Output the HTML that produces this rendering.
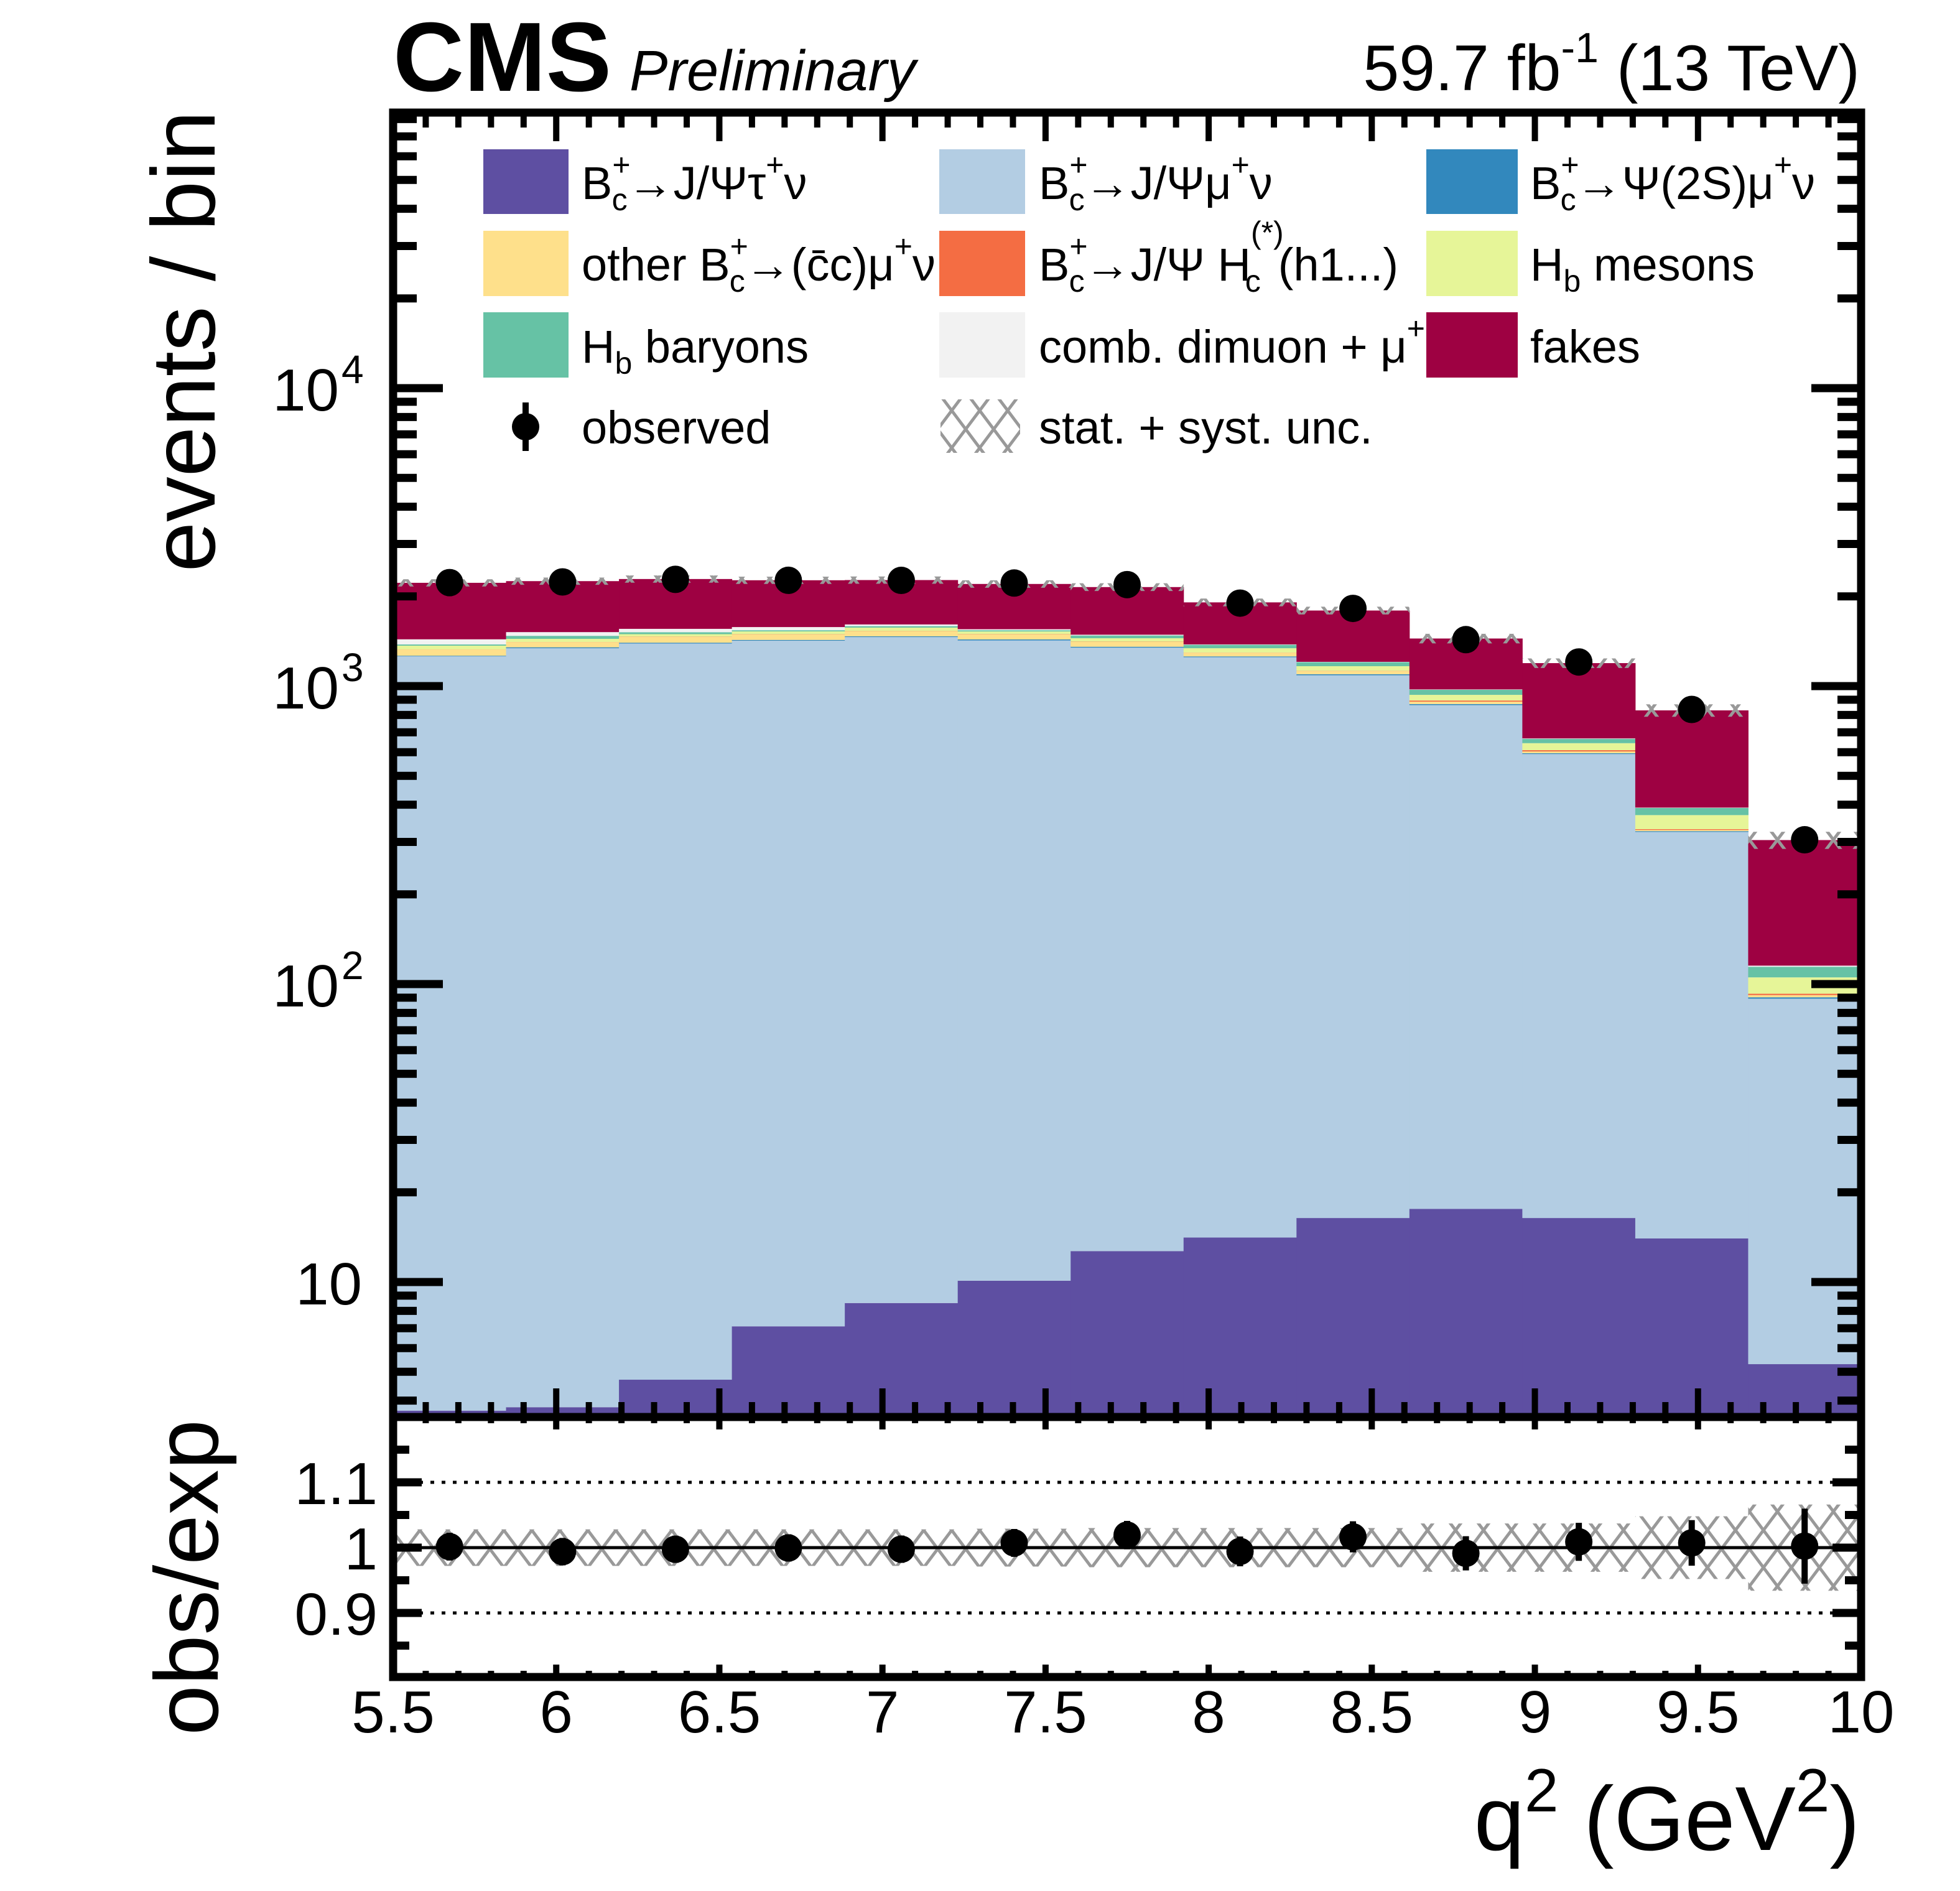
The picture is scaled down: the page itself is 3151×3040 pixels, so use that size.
<!DOCTYPE html>
<html><head><meta charset="utf-8"><style>
html,body{margin:0;padding:0;background:#fff;width:3151px;height:3040px;overflow:hidden;}
svg{display:block;font-family:"Liberation Sans",sans-serif;}
</style></head><body>
<svg id="chart" width="3151" height="3040" viewBox="0 0 3151 3040" xmlns="http://www.w3.org/2000/svg" overflow="hidden">
<defs>
<pattern id="hatch" patternUnits="userSpaceOnUse" width="45" height="60">
<path d="M0,0 L45,60 M45,0 L0,60" stroke="#999" stroke-width="5" fill="none"/>
</pattern>
<clipPath id="mainClip"><rect x="638" y="187" width="2348" height="2085"/></clipPath>
<clipPath id="ratioClip"><rect x="638" y="2285" width="2348" height="405"/></clipPath>
</defs>
<g id="main-stack" clip-path="url(#mainClip)"></g>
<g id="main-unc" clip-path="url(#mainClip)"></g>
<g id="ratio-g" clip-path="url(#ratioClip)"></g>
<g id="points"></g>
<g id="axes"></g>

<text x="632" y="146" font-size="158" font-weight="bold">CMS</text>
<text x="1012" y="145" font-size="92" font-style="italic">Preliminary</text>
<text x="2990" y="145" font-size="104" text-anchor="end">59.7 fb<tspan font-size="68" dy="-45">-1</tspan><tspan dy="45"> (13 TeV)</tspan></text>

<text transform="translate(345,178) rotate(-90)" font-size="145" text-anchor="end">events / bin</text>
<text transform="translate(350,2282) rotate(-90)" font-size="145" text-anchor="end">obs/exp</text>
<text x="2990" y="2974" font-size="146" text-anchor="end">q<tspan font-size="98" dy="-62">2</tspan><tspan dy="62"> (GeV</tspan><tspan font-size="98" dy="-62">2</tspan><tspan dy="62">)</tspan></text>

<g font-size="74">
<rect x="777" y="240" width="137" height="104" fill="#5e4fa2"/>
<text x="935" y="320">B<tspan font-size="50" dy="-38">+</tspan><tspan font-size="50" dx="-30" dy="56">c</tspan><tspan dy="-18">→J/Ψτ</tspan><tspan font-size="50" dy="-38">+</tspan><tspan dy="38">ν</tspan></text>
<rect x="1510" y="240" width="138" height="104" fill="#b3cde3"/>
<text x="1670" y="320">B<tspan font-size="50" dy="-38">+</tspan><tspan font-size="50" dx="-30" dy="56">c</tspan><tspan dy="-18">→J/Ψμ</tspan><tspan font-size="50" dy="-38">+</tspan><tspan dy="38">ν</tspan></text>
<rect x="2293" y="240" width="147" height="104" fill="#3288bd"/>
<text x="2460" y="320">B<tspan font-size="50" dy="-38">+</tspan><tspan font-size="50" dx="-30" dy="56">c</tspan><tspan dy="-18">→Ψ(2S)μ</tspan><tspan font-size="50" dy="-38">+</tspan><tspan dy="38">ν</tspan></text>

<rect x="777" y="371" width="137" height="105" fill="#fee08b"/>
<text x="935" y="451">other B<tspan font-size="50" dy="-38">+</tspan><tspan font-size="50" dx="-30" dy="56">c</tspan><tspan dy="-18">→(c̄c)μ</tspan><tspan font-size="50" dy="-38">+</tspan><tspan dy="38">ν</tspan></text>
<rect x="1510" y="371" width="138" height="105" fill="#f46d43"/>
<text x="1670" y="451">B<tspan font-size="50" dy="-38">+</tspan><tspan font-size="50" dx="-30" dy="56">c</tspan><tspan dy="-18">→J/Ψ H</tspan><tspan font-size="50" dy="-60">(*)</tspan><tspan font-size="50" dx="-62" dy="78">c</tspan><tspan dx="28" dy="-18">(h1...)</tspan></text>
<rect x="2293" y="371" width="147" height="105" fill="#e6f598"/>
<text x="2460" y="451">H<tspan font-size="50" dy="18">b</tspan><tspan dy="-18"> mesons</tspan></text>

<rect x="777" y="502" width="137" height="105" fill="#66c2a5"/>
<text x="935" y="583">H<tspan font-size="50" dy="18">b</tspan><tspan dy="-18"> baryons</tspan></text>
<rect x="1510" y="502" width="138" height="105" fill="#f2f2f2"/>
<text x="1670" y="583">comb. dimuon + μ<tspan font-size="50" dy="-38">+</tspan></text>
<rect x="2293" y="502" width="147" height="105" fill="#9e0142"/>
<text x="2460" y="583">fakes</text>

<line x1="845" y1="647" x2="845" y2="725" stroke="#000" stroke-width="10"/>
<circle cx="845" cy="686" r="22" fill="#000"/>
<text x="935" y="713">observed</text>
<rect x="1512" y="642" width="128" height="86" fill="url(#hatch)"/>
<text x="1670" y="713">stat. + syst. unc.</text>
</g>

<script>
const binLo = 5.5;
const binHi = 10.0;
const nBins = 13;
const tauNu   = [3.7,3.8,4.7,7.1,8.5,10.1,12.7,14.1,16.4,17.6,16.4,14.0,5.3];
const jpsiMu  = [1255,1336,1385,1413,1452,1413,1333,1236,1071,846,575,310,84];
const psi2sMu = [6,10,9,9,9,11,10,8,9,7,4,2,1];
const otherBc = [62,56,63,61,57,57,51,35,27,16,8,3,1.5];
const hcBg    = [1,1,3,3,3,3,3,2,2,8,6,2,1];
const hbMesons= [39,34,29,33,42,31,38,45,41,40,34,38,12.5];
const hbBaryons=[13,34,23,14,18,15,31,36,37,37,22,21,9];
const combBg  = [56,43,40,38,21,12,9,4,3,3,2,1,1];
const fakes   = [786,733,731,688,659,650,662,530,587,470,527,438,189];
const observed= [2225,2237,2282,2265,2264,2218,2191,1899,1823,1432,1205,835,305];
const uncRel  = [0.028,0.028,0.028,0.028,0.028,0.029,0.030,0.030,0.030,0.037,0.037,0.048,0.066];
const xTickLabels = ["5.5","6","6.5","7","7.5","8","8.5","9","9.5","10"];
const ratioTickLabels = ["0.9","1","1.1"];

const NS = "http://www.w3.org/2000/svg";
const X0 = 632, X1 = 2992;
function xs(v){ return X0 + (v - binLo) / (binHi - binLo) * (X1 - X0); }
function ys(v){ return 2061 - 479 * (Math.log10(Math.max(v,1e-3)) - 1); }
function yr(v){ return 2488 - (v - 1) * 1050; }
function mk(tag, attrs, parent){
  const e = document.createElementNS(NS, tag);
  for (const k in attrs) e.setAttribute(k, attrs[k]);
  parent.appendChild(e);
  return e;
}
const bw = (binHi - binLo) / nBins;
const stack = [
  ["tau", tauNu, "#5e4fa2"], ["jpsi-mu", jpsiMu, "#b3cde3"], ["psi2s-mu", psi2sMu, "#3288bd"],
  ["other-bc", otherBc, "#fee08b"], ["hc", hcBg, "#f46d43"], ["hb-mesons", hbMesons, "#e6f598"],
  ["hb-baryons", hbBaryons, "#66c2a5"], ["comb", combBg, "#f2f2f2"], ["fakes", fakes, "#9e0142"]
];
const gS = document.getElementById("main-stack");
const total = [];
for (let i = 0; i < nBins; i++){
  let cum = 0.001;
  const xa = xs(binLo + i*bw), xb = xs(binLo + (i+1)*bw);
  for (const [nm, arr, col] of stack){
    const lo = cum, hi = cum + arr[i];
    const r = mk("rect", {x: xa, y: ys(hi), width: xb - xa + 0.5, height: Math.max(0, ys(lo) - ys(hi)), fill: col}, gS);
    
    
    cum = hi;
  }
  total.push(cum);
}
const gU = document.getElementById("main-unc");
for (let i = 0; i < nBins; i++){
  const xa = xs(binLo + i*bw), xb = xs(binLo + (i+1)*bw);
  const hi = total[i]*(1+uncRel[i]), lo = total[i]*(1-uncRel[i]);
  const r = mk("rect", {x: xa, y: ys(hi), width: xb - xa, height: ys(lo) - ys(hi), fill: "url(#hatch)"}, gU);
  
  
}
const gR = document.getElementById("ratio-g");
for (let i = 0; i < nBins; i++){
  const xa = xs(binLo + i*bw), xb = xs(binLo + (i+1)*bw);
  const r = mk("rect", {x: xa, y: yr(1+uncRel[i]), width: xb - xa, height: yr(1-uncRel[i]) - yr(1+uncRel[i]), fill: "url(#hatch)"}, gR);
  
  
}
for (const v of [0.9, 1.1]){
  const l = mk("line", {x1: 638, x2: 2986, y1: yr(v), y2: yr(v), stroke: "#000", "stroke-width": 5, "stroke-dasharray": "6 12"}, gR);
  
  
}
const l1 = mk("line", {x1: 638, x2: 2986, y1: yr(1), y2: yr(1), stroke: "#000", "stroke-width": 5}, gR);



const gP = document.getElementById("points");
for (let i = 0; i < nBins; i++){
  const xc = xs(binLo + (i+0.5)*bw);
  const err = Math.sqrt(observed[i]);
  const e1 = mk("line", {x1: xc, x2: xc, y1: ys(observed[i]+err), y2: ys(observed[i]-err), stroke: "#000", "stroke-width": 10}, gP);
  
  
  const c1 = mk("circle", {cx: xc, cy: ys(observed[i]), r: 22, fill: "#000"}, gP);
  
  
  const rt = observed[i] / total[i];
  const re = err / total[i];
  const e2 = mk("line", {x1: xc, x2: xc, y1: yr(rt+re), y2: yr(rt-re), stroke: "#000", "stroke-width": 10}, gP);
  
  
  const c2 = mk("circle", {cx: xc, cy: yr(rt), r: 22, fill: "#000"}, gP);
  
  
}

const gA = document.getElementById("axes");
function tick(x1,y1,x2,y2,w,name){
  const t = mk("line", {x1:x1,y1:y1,x2:x2,y2:y2,stroke:"#000","stroke-width":w}, gA);
  
  
}
const MT = 181, MB = 2278, RB = 2696;
for (let d = 0; d <= 4; d++){
  for (let m = 1; m <= 9; m++){
    const v = m * Math.pow(10, d);
    const y = ys(v);
    if (y < MT + 8 || y > MB - 8) continue;
    const L = (m === 1) ? 80 : 38;
    tick(632, y, 632 + L, y, 13, 'y-tick');
    tick(2992, y, 2992 - L, y, 13, 'y-tick-right');
  }
}
for (let d = 1; d <= 4; d++){
  const y = ys(Math.pow(10, d));
  const t = mk("text", {x: d === 1 ? 582 : 545, y: y + 36, "font-size": 96, "text-anchor": "end"}, gA);
  t.textContent = "10";
  
  
  if (d > 1){
    const s = mk("text", {x: 549, y: y - 8, "font-size": 64}, gA);
    s.textContent = String(d);
    
    
  }
}
for (let k = 0; k <= 45; k++){
  const v = binLo + k * 0.1;
  const x = xs(v);
  const major = (k % 5 === 0);
  tick(x, MB, x, MB - (major ? 46 : 24), 10, 'x-tick-main');
  tick(x, MT, x, MT + (major ? 46 : 24), 10, 'x-tick-top');
  tick(x, RB, x, RB - (major ? 20 : 10), 10, 'x-tick-ratio');
  tick(x, MB, x, MB + (major ? 20 : 10), 10, 'x-tick-ratio-top');
}
xTickLabels.forEach((lab, j) => {
  const t = mk("text", {x: xs(binLo + j*0.5), y: 2785, "font-size": 96, "text-anchor": "middle"}, gA);
  t.textContent = lab;
  
  
});
for (const v of [0.85, 0.9, 0.95, 1.0, 1.05, 1.1, 1.15]){
  const major = Math.abs((v*10) - Math.round(v*10)) < 1e-6;
  const L = major ? 46 : 26;
  tick(632, yr(v), 632 + L, yr(v), 13, 'ratio-y-tick');
  tick(2992, yr(v), 2992 - L, yr(v), 13, 'ratio-y-tick-right');
}
ratioTickLabels.forEach((lab) => {
  const t = mk("text", {x: 607, y: yr(parseFloat(lab)) + 35, "font-size": 96, "text-anchor": "end"}, gA);
  t.textContent = lab;
  
  
});
const f1 = mk("rect", {x: 632, y: MT, width: X1 - X0, height: MB - MT, fill: "none", stroke: "#000", "stroke-width": 13}, gA);


const f2 = mk("rect", {x: 632, y: MB, width: X1 - X0, height: RB - MB, fill: "none", stroke: "#000", "stroke-width": 13}, gA);


</script>
</svg>
</body></html>
